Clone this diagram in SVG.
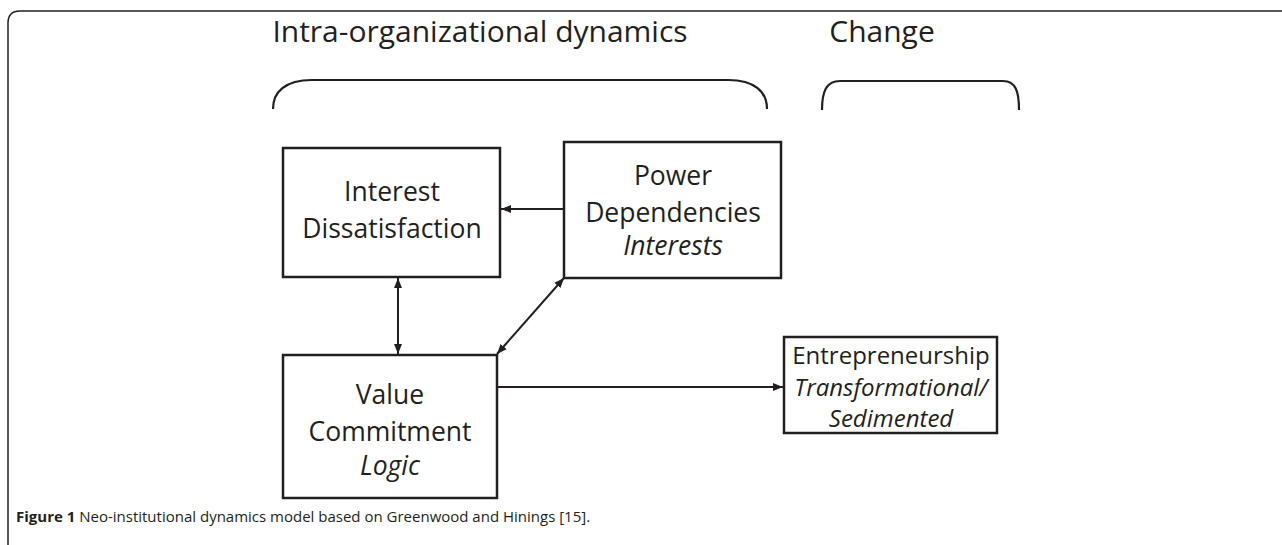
<svg xmlns="http://www.w3.org/2000/svg" width="1282" height="545" viewBox="0 0 1282 545">
<style>
.bg{fill:#fff}
.frame{fill:none;stroke:#231f20;stroke-width:1.5}
.brace{fill:none;stroke:#231f20;stroke-width:2.2}
.box{fill:#fff;stroke:#231f20;stroke-width:2.5}
.conn{fill:none;stroke:#231f20;stroke-width:2}
.t{font-family:"Open Sans","Liberation Sans",sans-serif;font-size:26.5px;fill:#231f20;text-anchor:middle}
.s{font-size:24px}
.i{font-style:italic}
.h{font-family:"Open Sans","Liberation Sans",sans-serif;font-size:30px;fill:#231f20;text-anchor:middle}
.cap{font-family:"Open Sans","Liberation Sans",sans-serif;font-size:15px;fill:#231f20}
</style>
<defs>
<marker id="ah" viewBox="0 0 10 10" refX="10" refY="5" markerWidth="10" markerHeight="10" markerUnits="userSpaceOnUse" orient="auto-start-reverse">
<path d="M0,1 L10,5 L0,9 Z" fill="#231f20"/>
</marker>
</defs>
<rect class="bg" x="0" y="0" width="1282" height="545"/>
<path class="frame" d="M8,560 L8,23 Q8,11 20,11 L1300,11"/>
<g id="headers">
<text class="h" x="480" y="42">Intra-organizational dynamics</text>
<text class="h" x="882" y="42">Change</text>
<path class="brace" d="M273,109 C273,92 285,80 312,80 L728,80 C755,80 767,92 767,109"/>
<path class="brace" d="M822,110 C822,92 826,81 840,81 L1003,81 C1016,81 1019,92 1019,110"/>
</g>
<g id="node-interest">
<rect class="box" x="283" y="148" width="217" height="129"/>
<text class="t" x="392" y="201">Interest</text>
<text class="t" x="392" y="238">Dissatisfaction</text>
</g>
<g id="node-power">
<rect class="box" x="564" y="142" width="217" height="136"/>
<text class="t" x="673" y="185">Power</text>
<text class="t" x="673" y="222">Dependencies</text>
<text class="t i" x="673" y="255">Interests</text>
</g>
<g id="node-value">
<rect class="box" x="283" y="355" width="214" height="143"/>
<text class="t" x="390" y="404">Value</text>
<text class="t" x="390" y="441">Commitment</text>
<text class="t i" x="390" y="475">Logic</text>
</g>
<g id="node-entrepreneurship">
<rect class="box" x="784" y="337" width="213" height="96"/>
<text class="t s" x="891" y="364">Entrepreneurship</text>
<text class="t s i" x="891" y="396">Transformational/</text>
<text class="t s i" x="891" y="427">Sedimented</text>
</g>
<g id="connectors">
<line class="conn" x1="564" y1="209" x2="501" y2="209" marker-end="url(#ah)"/>
<line class="conn" x1="398" y1="278" x2="398" y2="354" marker-start="url(#ah)" marker-end="url(#ah)"/>
<line class="conn" x1="564" y1="278" x2="497" y2="354" marker-start="url(#ah)" marker-end="url(#ah)"/>
<line class="conn" x1="497" y1="387" x2="783" y2="387" marker-end="url(#ah)"/>
</g>
<text class="cap" x="16" y="522"><tspan font-weight="bold">Figure 1</tspan> Neo-institutional dynamics model based on Greenwood and Hinings [15].</text>
</svg>
